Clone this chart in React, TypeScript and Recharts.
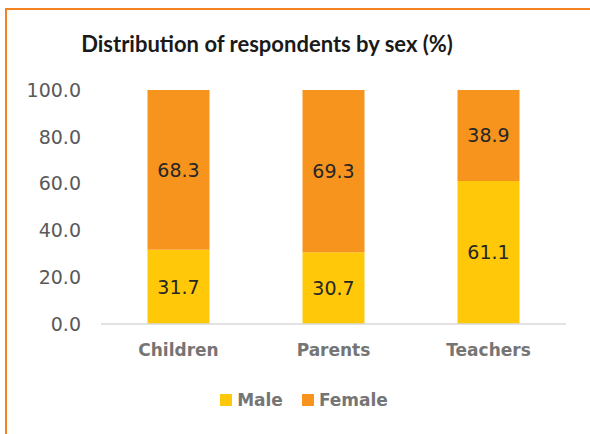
import { BarChart, Bar, XAxis, YAxis, LabelList } from "recharts";

const groups = ["Children", "Parents", "Teachers"];
const male = [31.7, 30.7, 61.1];
const female = [68.3, 69.3, 38.9];
const yTicks = [0, 20, 40, 60, 80, 100];
const seriesNames = ["Male", "Female"];
const seriesColors = ["#FFC90A", "#F7941E"];

const data = groups.map((g, i) => ({ group: g, Male: male[i], Female: female[i] }));

const titleFont = "Lato, 'Open Sans', sans-serif";
const font = "'DejaVu Sans', sans-serif";

export default function App() {
  return (
    <div
      style={{
        position: "absolute",
        left: 0,
        top: 0,
        width: 590,
        height: 434,
        background: "#fff",
        overflow: "hidden"
      }}
    >
      <div
        style={{
          position: "absolute",
          left: 5,
          top: 8,
          width: 590,
          height: 434,
          borderLeft: "2px solid #F58220",
          borderTop: "2px solid #F58220"
        }}
      />
      <div
        style={{
          position: "absolute",
          left: 0,
          top: 30,
          width: 534,
          textAlign: "center",
          fontFamily: titleFont,
          fontSize: 22,
          fontWeight: 700,
          color: "#1a1a1a"
        }}
      >
        Distribution of respondents by sex (%)
      </div>
      <div style={{ position: "absolute", left: 0, top: 0 }}>
        <BarChart
          width={590}
          height={434}
          data={data}
          margin={{ top: 90, right: 24, left: 0, bottom: 60 }}
          barCategoryGap="30%"
        >
          <XAxis
            dataKey="group"
            height={50}
            tickLine={false}
            axisLine={{ stroke: "#d9d9d9", strokeWidth: 1.5 }}
            tick={{ fill: "#757575", fontSize: 17, fontWeight: 700, fontFamily: font }}
            tickMargin={14}
          />
          <YAxis
            width={101}
            domain={[0, 100]}
            ticks={yTicks}
            tickFormatter={(v: number) => v.toFixed(1)}
            axisLine={false}
            tickLine={false}
            tickSize={0}
            tickMargin={20}
            tick={{ fill: "#595959", fontSize: 19, fontFamily: font }}
          />
          <Bar dataKey="Male" stackId="a" fill={seriesColors[0]} isAnimationActive={false}>
            <LabelList
              dataKey="Male"
              position="center"
              formatter={(v: number) => v.toFixed(1)}
              style={{ fill: "#262626", fontSize: 19, fontFamily: font }}
            />
          </Bar>
          <Bar dataKey="Female" stackId="a" fill={seriesColors[1]} isAnimationActive={false}>
            <LabelList
              dataKey="Female"
              position="center"
              formatter={(v: number) => v.toFixed(1)}
              style={{ fill: "#262626", fontSize: 19, fontFamily: font }}
            />
          </Bar>
        </BarChart>
      </div>
      <div
        style={{
          position: "absolute",
          left: 0,
          top: 390,
          width: 608,
          display: "flex",
          justifyContent: "center",
          gap: 19,
          fontFamily: font,
          fontSize: 17,
          fontWeight: 700,
          color: "#757575"
        }}
      >
        {seriesNames.map((n, i) => (
          <div key={n} style={{ display: "flex", alignItems: "center", gap: 5 }}>
            <span style={{ width: 12, height: 12, background: seriesColors[i], display: "inline-block" }} />
            <span>{n}</span>
          </div>
        ))}
      </div>
    </div>
  );
}
